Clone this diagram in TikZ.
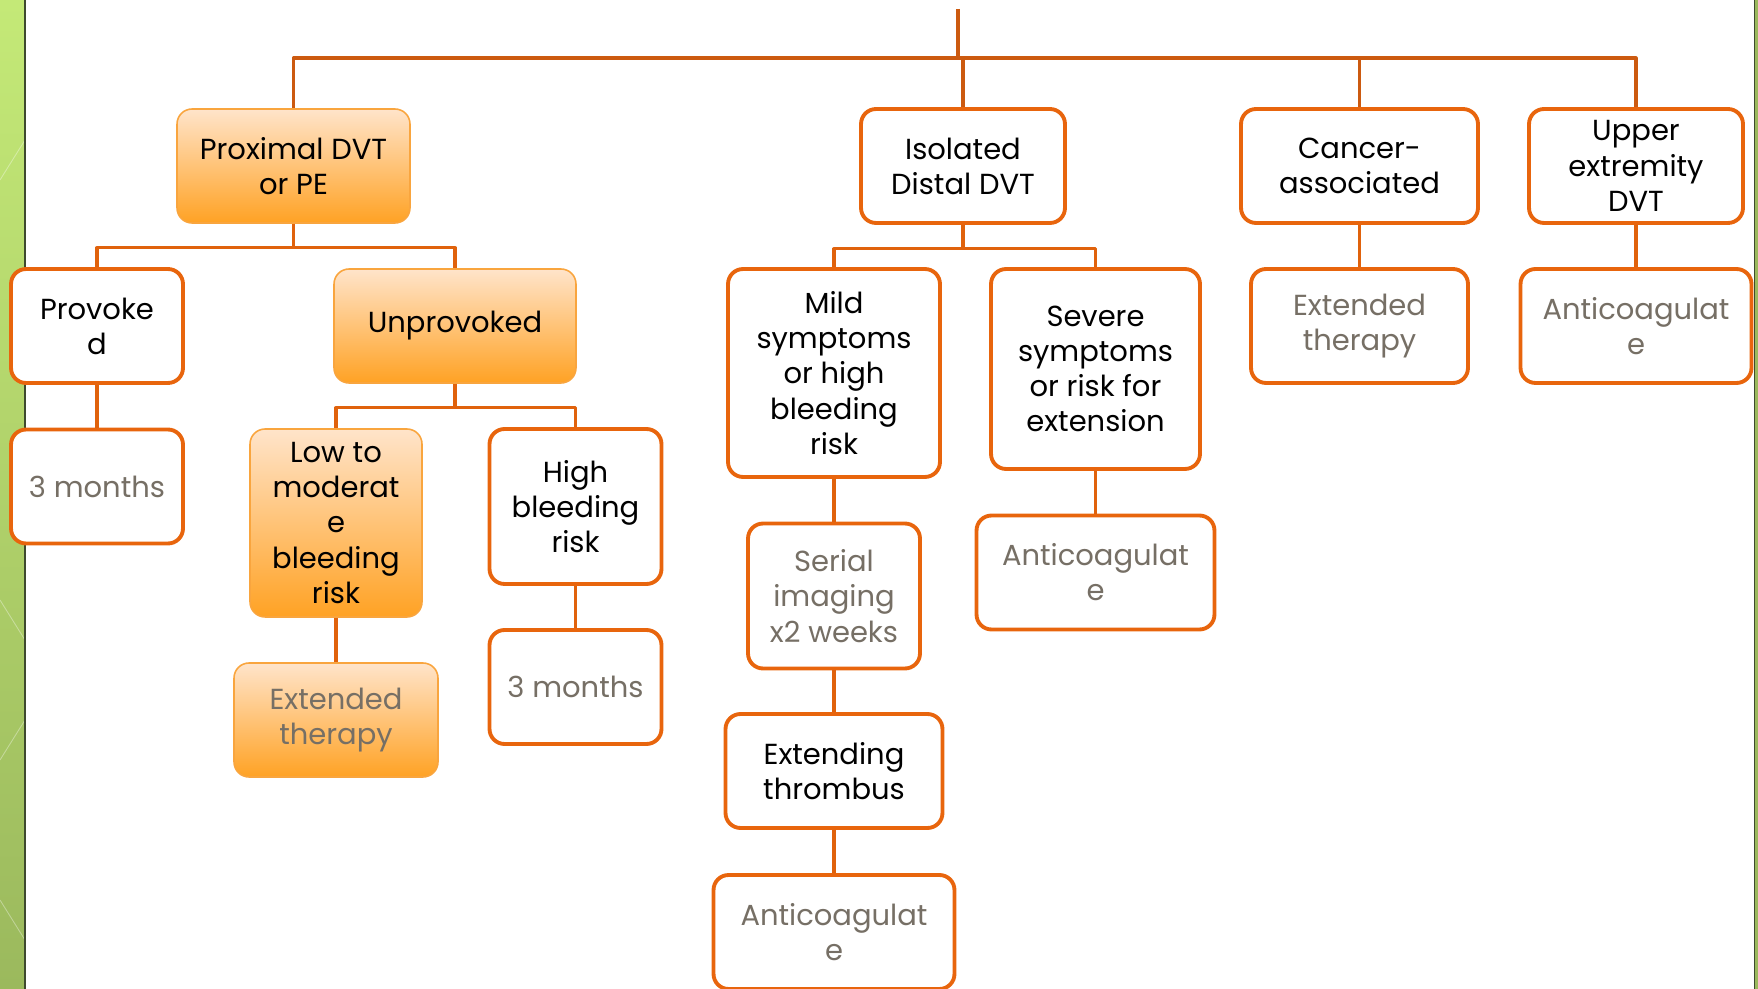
\documentclass[tikz,border=0pt]{standalone}
\usepackage{fontspec}
\setmainfont{Poppins}
\usepackage{tikz}
\definecolor{Bline}{HTML}{E8650D}
\definecolor{Lline}{HTML}{E0620C}
\definecolor{Tline}{HTML}{CC5A10}
\definecolor{Oline}{HTML}{F9A53E}
\definecolor{Otop}{HTML}{FFE4CA}
\definecolor{Obot}{HTML}{FFA224}
\definecolor{Gtext}{HTML}{766F65}
\definecolor{Stop}{HTML}{C4E977}
\definecolor{Sbot}{HTML}{9BB95D}
\definecolor{Sdark}{HTML}{3E4A2E}

\tikzset{
  wbox/.style={draw=Bline,line width=2.2pt,fill=white,rounded corners=0.3cm,
    align=center,inner sep=1pt,font=\fontsize{16.5}{20}\selectfont},
  obox/.style={draw=Oline,line width=0.9pt,top color=Otop,bottom color=Obot,
    rounded corners=0.3cm,align=center,inner sep=1pt,font=\fontsize{16.5}{20}\selectfont},
  gtxt/.style={text=Gtext},
  link/.style={draw=Lline,line width=1.8pt},
}

\begin{document}
\begin{tikzpicture}[x=0.02cm,y=-0.02cm,line join=round]
\useasboundingbox (0,0) rectangle (1758,989);

% ---- side stripes ----
\shade[top color=Stop,bottom color=Sbot] (0,0) rectangle (25,989);
\foreach \ya/\yb in {180/140, 600/640, 760/720, 900/940}
  \draw[white,opacity=0.35,line width=0.5pt] (0,\ya) -- (25,\yb);
\draw[Sdark,line width=1.2pt] (25,0) -- (25,989);
\fill[Sbot] (1754,0) rectangle (1758,989);
\draw[Sdark,line width=0.5pt] (1754,0) -- (1754,989);

% ---- first row ----
\node[obox,minimum width=4.66cm,minimum height=2.28cm] (prox) at (293.5,166) {Proximal DVT\\or PE};
\node[wbox,minimum width=4.08cm,minimum height=2.28cm] (iso) at (963,166) {Isolated\\Distal DVT};
\node[wbox,minimum width=4.74cm,minimum height=2.28cm] (canc) at (1359.5,166) {Cancer-\\associated};
\node[wbox,minimum width=4.28cm,minimum height=2.28cm] (upper) at (1636,166) {Upper\\extremity\\DVT};

% ---- second row ----
\node[wbox,minimum width=3.44cm,minimum height=2.28cm] (prov) at (97,326) {Provoke\\d};
\node[obox,minimum width=4.84cm,minimum height=2.28cm] (unprov) at (455,326) {Unprovoked};
\node[wbox,minimum width=4.24cm,minimum height=4.16cm] (mild) at (834,373) {Mild\\symptoms\\or high\\bleeding\\risk};
\node[wbox,minimum width=4.18cm,minimum height=4.0cm] (severe) at (1095.5,369) {Severe\\symptoms\\or risk for\\extension};
\node[wbox,gtxt,minimum width=4.34cm,minimum height=2.28cm] (exta) at (1359.5,326) {Extended\\therapy};
\node[wbox,gtxt,minimum width=4.62cm,minimum height=2.28cm] (antiu) at (1636,326) {Anticoagulat\\e};

% ---- lower rows ----
\node[wbox,gtxt,minimum width=3.44cm,minimum height=2.28cm] (three1) at (97,486.5) {3 months};
\node[obox,minimum width=3.44cm,minimum height=3.76cm] (low) at (336,523) {Low to\\moderat\\e\\bleeding\\risk};
\node[wbox,minimum width=3.44cm,minimum height=3.1cm] (high) at (575.5,506.5) {High\\bleeding\\risk};
\node[obox,gtxt,minimum width=4.08cm,minimum height=2.28cm] (extb) at (336,720) {Extended\\therapy};
\node[wbox,gtxt,minimum width=3.44cm,minimum height=2.28cm] (three2) at (575.5,687) {3 months};
\node[wbox,gtxt,minimum width=3.44cm,minimum height=2.9cm] (serial) at (834,596) {Serial\\imaging\\x2 weeks};
\node[wbox,gtxt,minimum width=4.76cm,minimum height=2.28cm] (antis) at (1095.5,572.5) {Anticoagulat\\e};
\node[wbox,minimum width=4.34cm,minimum height=2.28cm] (extend) at (834,771) {Extending\\thrombus};
\node[wbox,gtxt,minimum width=4.82cm,minimum height=2.28cm] (antib) at (834,932) {Anticoagulat\\e};

% ---- connectors ----
\coordinate (top) at (958,9);
\coordinate (bus) at (958,58);
\draw[link,draw=Tline] (top) -- (bus);
\foreach \n in {prox,iso,canc,upper}
  \draw[link,draw=Tline] (bus) -| (\n.north);
\foreach \a/\b in {prox/prov, prox/unprov, iso/mild, iso/severe, unprov/low, unprov/high}
  \draw[link] (\a.south) -- ++(0,24) -| (\b.north);
\foreach \a/\b in {canc/exta, upper/antiu, prov/three1, low/extb, high/three2,
                   mild/serial, severe/antis, serial/extend, extend/antib}
  \draw[link] (\a.south) -- (\b.north);
\end{tikzpicture}
\end{document}
